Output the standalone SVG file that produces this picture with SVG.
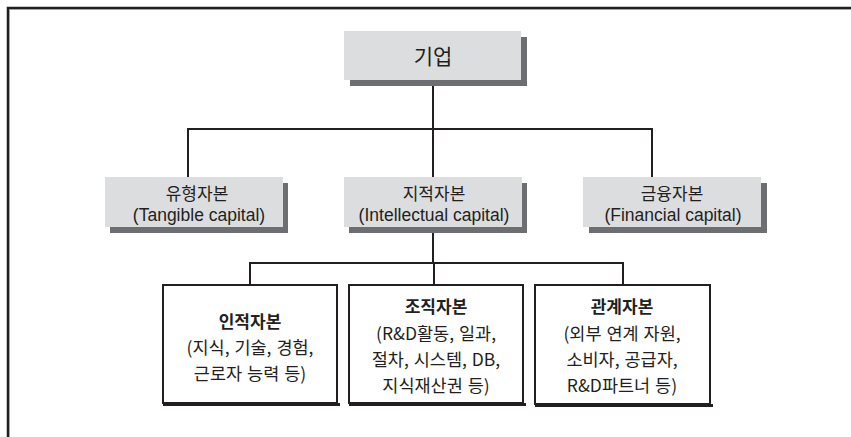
<svg xmlns="http://www.w3.org/2000/svg" width="851" height="437" viewBox="0 0 851 437">
<style>
.t{font-family:"Liberation Sans","Noto Sans CJK KR",sans-serif;fill:#231f20;text-anchor:middle}
.k{font-family:"Noto Sans CJK KR","Liberation Sans",sans-serif;fill:#231f20;text-anchor:middle}
.l{font-family:"Noto Sans CJK KR","Liberation Sans",sans-serif;fill:#231f20;text-anchor:middle;font-size:17.5px;word-spacing:1px}
.g{fill:#dcdddf}
.s{fill:#6d6e71}
.b{fill:#fff;stroke:#231f20;stroke-width:2}
.c{fill:none;stroke:#231f20;stroke-width:2}
</style>
<rect width="851" height="437" fill="#fff"/>
<path d="M8 437V8H851" fill="none" stroke="#231f20" stroke-width="2.5"/>
<path d="M9.5 437V9.5H851" fill="none" stroke="#9a9a9a" stroke-width="0.8"/>
<g id="connectors" class="c">
<path d="M433 86V129M188 177V129H652V177M433 129V177"/>
<path d="M433 233V263M250 285V263H623V285M434 263V285"/>
</g>
<g id="n-giup">
<rect class="s" x="350" y="37" width="177" height="49"/>
<rect class="g" x="344" y="31" width="177" height="49"/>
<text class="k" x="433" y="64" font-size="21">기업</text>
</g>
<g id="n-tangible">
<rect class="s" x="110" y="183" width="178" height="50"/>
<rect class="g" x="105" y="177" width="178" height="50"/>
<text class="k" x="197" y="200" font-size="17">유형자본</text>
<text class="t" x="199" y="221" font-size="17.5">(Tangible capital)</text>
</g>
<g id="n-intellectual">
<rect class="s" x="349" y="183" width="178" height="50"/>
<rect class="g" x="344" y="177" width="178" height="50"/>
<text class="k" x="434" y="200" font-size="17">지적자본</text>
<text class="t" x="434" y="221" font-size="17.5">(Intellectual capital)</text>
</g>
<g id="n-financial">
<rect class="s" x="589" y="183" width="178" height="50"/>
<rect class="g" x="583" y="177" width="178" height="50"/>
<text class="k" x="672" y="200" font-size="17">금융자본</text>
<text class="t" x="673" y="221" font-size="17.5">(Financial capital)</text>
</g>
<g id="n-human">
<rect class="b" x="163" y="285" width="174" height="118"/>
<rect fill="#231f20" x="163" y="403" width="177" height="3"/>
<text class="k" x="250" y="328" font-size="17" font-weight="bold">인적자본</text>
<text class="l" x="250" y="354">(지식, 기술, 경험,</text>
<text class="l" x="250" y="380">근로자 능력 등)</text>
</g>
<g id="n-org">
<rect class="b" x="349" y="285" width="174" height="118"/>
<rect fill="#231f20" x="349" y="403" width="177" height="3"/>
<text class="k" x="436" y="313" font-size="17" font-weight="bold">조직자본</text>
<text class="l" x="436" y="340">(R&amp;D활동, 일과,</text>
<text class="l" x="436" y="366">절차, 시스템, DB,</text>
<text class="l" x="436" y="392">지식재산권 등)</text>
</g>
<g id="n-relation">
<rect class="b" x="535" y="285" width="175" height="119"/>
<rect fill="#231f20" x="535" y="404" width="178" height="3"/>
<text class="k" x="622" y="313" font-size="17" font-weight="bold">관계자본</text>
<text class="l" x="622" y="340">(외부 연계 자원,</text>
<text class="l" x="622" y="366">소비자, 공급자,</text>
<text class="l" x="622" y="392">R&amp;D파트너 등)</text>
</g>
</svg>
